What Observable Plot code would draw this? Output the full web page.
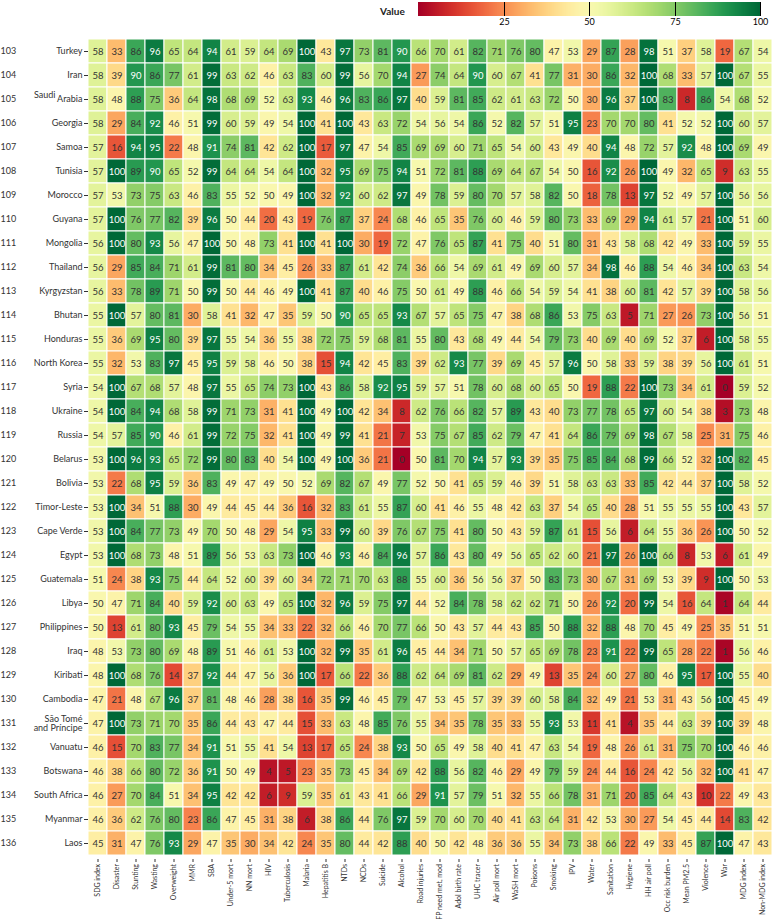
<!DOCTYPE html>
<html><head><meta charset="utf-8">
<script src="https://cdn.jsdelivr.net/npm/d3@7"></script>
<script src="https://cdn.jsdelivr.net/npm/@observablehq/plot@0.6"></script>
<style>
body{margin:0;background:#fff;font-family:Lato,"Noto Sans",sans-serif;}
#wrap{position:relative;width:772px;height:919px;overflow:hidden;}
#legend{position:absolute;top:0;left:418px;}
#ltitle{position:absolute;top:5px;left:380px;font-size:10px;font-weight:bold;color:#222;}
</style></head><body><div id="wrap"><div id="ltitle">Value</div><div id="legend"></div></div>
<script>
const indicators = ["SDG index","Disaster","Stunting","Wasting","Overweight","MMR","SBA","Under-5 mort","NN mort","HIV","Tuberculosis","Malaria","Hepatitis B","NTDs","NCDs","Suicide","Alcohol","Road injuries","FP need met, mod","Adol birth rate","UHC tracer","Air poll mort","WaSH mort","Poisons","Smoking","IPV","Water","Sanitation","Hygiene","HH air poll","Occ risk burden","Mean PM2.5","Violence","War","MDG index","Non-MDG index"];
const countries = ["Turkey","Iran","Saudi Arabia","Georgia","Samoa","Tunisia","Morocco","Guyana","Mongolia","Thailand","Kyrgyzstan","Bhutan","Honduras","North Korea","Syria","Ukraine","Russia","Belarus","Bolivia","Timor-Leste","Cape Verde","Egypt","Guatemala","Libya","Philippines","Iraq","Kiribati","Cambodia","São Tomé and Príncipe","Vanuatu","Botswana","South Africa","Myanmar","Laos"];
const rowNumbers = ["103","104","105","106","107","108","109","110","111","112","113","114","115","116","117","118","119","120","121","122","123","124","125","126","127","128","129","130","131","132","133","134","135","136"];

const turkey      = [58,33,86,96,65,64,94,61,59,64,69,100,43,97,73,81,90,66,70,61,82,71,76,80,47,53,29,87,28,98,51,37,58,19,67,54];
const iran        = [58,39,90,86,77,61,99,63,62,46,63,83,60,99,56,70,94,27,74,64,90,60,67,41,77,31,30,86,32,100,68,33,57,100,67,55];
const saudiArabia = [58,48,88,75,36,64,98,68,69,52,63,93,46,96,83,86,97,40,59,81,85,62,61,63,72,50,30,96,37,100,83,8,86,54,68,52];
const georgia     = [58,29,84,92,46,51,99,60,59,49,54,100,41,100,43,63,72,54,56,54,86,52,82,57,51,95,23,70,70,80,41,52,52,100,60,57];
const samoa       = [57,16,94,95,22,48,91,74,81,42,62,100,17,97,47,54,85,69,69,60,71,65,54,60,43,49,40,94,48,72,57,92,48,100,69,49];
const tunisia     = [57,100,89,90,65,52,99,64,64,54,64,100,32,95,69,75,94,51,72,81,88,69,64,67,54,50,16,92,26,100,49,32,65,9,63,55];
const morocco     = [57,53,73,75,63,46,83,55,52,50,49,100,32,92,60,62,97,49,78,59,80,70,57,58,82,50,18,78,13,97,52,49,57,100,56,56];
const guyana      = [57,100,76,77,82,39,96,50,44,20,43,19,76,87,37,24,68,46,65,35,76,60,46,59,80,73,33,69,29,94,61,57,21,100,51,60];
const mongolia    = [56,100,80,93,56,47,100,50,48,73,41,100,41,100,30,19,72,47,76,65,87,41,75,40,51,80,31,43,58,68,42,49,33,100,59,55];
const thailand    = [56,29,85,84,71,61,99,81,80,34,45,26,33,87,61,42,74,36,66,54,69,61,49,69,60,57,34,98,46,88,54,46,34,100,63,54];
const kyrgyzstan  = [56,33,78,89,71,50,99,50,44,46,49,100,41,87,40,46,75,50,61,49,88,46,66,54,59,54,41,38,60,81,42,57,39,100,58,56];
const bhutan      = [55,100,57,80,81,30,58,41,32,47,35,59,50,90,65,65,93,67,57,65,75,47,38,68,86,53,75,63,5,71,27,26,73,100,56,51];
const honduras    = [55,36,69,95,80,39,97,55,54,36,55,38,72,75,59,68,81,55,80,43,68,49,44,54,79,73,40,69,40,69,52,37,6,100,58,55];
const northKorea  = [55,32,53,83,97,45,95,59,58,46,50,38,15,94,42,45,83,39,62,93,77,39,69,45,57,96,50,58,33,59,38,39,56,100,61,51];
const syria       = [54,100,67,68,57,48,97,55,65,74,73,100,43,86,58,92,95,59,57,51,78,60,68,60,65,50,19,88,22,100,73,34,61,0,59,52];
const ukraine     = [54,100,84,94,68,58,99,71,73,31,41,100,49,100,42,34,8,62,76,66,82,57,89,43,40,73,77,78,65,97,60,54,38,3,73,48];
const russia      = [54,57,85,90,46,61,99,72,75,32,41,100,49,99,41,21,7,53,75,67,85,62,79,47,41,64,86,79,69,98,67,58,25,31,75,46];
const belarus     = [53,100,96,93,65,72,99,80,83,40,54,100,49,100,36,21,0,50,81,70,94,57,93,39,35,75,85,84,68,99,66,52,32,100,82,45];
const bolivia     = [53,22,68,95,59,36,83,49,47,49,50,52,69,82,67,49,77,52,50,41,65,59,46,39,51,58,63,63,33,85,42,44,37,100,58,52];
const timorLeste  = [53,100,34,51,88,30,49,44,45,44,36,16,32,83,61,55,87,60,41,46,55,48,42,63,37,54,65,40,28,51,55,55,55,100,43,57];
const capeVerde   = [53,100,84,77,73,49,70,50,48,29,54,95,33,99,60,39,76,67,75,41,80,50,43,59,87,61,15,56,6,64,55,36,26,100,50,52];
const egypt       = [53,100,68,73,48,51,89,56,53,63,73,100,46,93,46,84,96,57,86,43,80,49,56,65,62,60,21,97,26,100,66,8,53,6,61,49];
const guatemala   = [51,24,38,93,75,44,64,52,60,39,60,34,72,71,70,63,88,55,60,36,56,56,37,50,83,73,30,67,31,69,53,39,9,100,50,53];
const libya       = [50,47,71,84,40,59,92,60,63,49,65,100,32,96,59,75,97,44,52,84,78,58,62,62,71,50,26,92,20,99,54,16,64,1,64,44];
const philippines = [50,13,61,80,93,45,79,54,55,34,33,22,32,66,46,70,77,66,50,43,57,44,43,85,50,88,32,88,48,70,45,49,25,35,51,51];
const iraq        = [48,53,73,80,69,48,89,51,46,61,53,100,32,99,35,61,96,45,44,34,71,50,57,65,69,78,23,91,22,99,65,28,22,1,56,46];
const kiribati    = [48,100,68,76,14,37,92,44,47,56,36,100,17,66,22,36,88,62,64,69,81,62,29,49,13,35,24,60,27,80,46,95,17,100,55,40];
const cambodia    = [47,21,48,67,96,37,81,48,46,28,38,16,35,99,46,45,79,47,53,45,57,39,39,60,58,84,32,49,21,53,31,43,56,100,45,49];
const saoTome     = [47,100,73,71,70,35,86,44,43,47,44,15,33,63,48,85,76,55,34,35,78,35,33,55,93,53,11,41,4,35,44,63,39,100,39,48];
const vanuatu     = [46,15,70,83,77,34,91,51,55,41,54,13,17,65,24,38,93,50,65,49,58,40,41,47,63,54,19,48,26,61,31,75,70,100,46,46];
const botswana    = [46,38,66,80,72,36,91,50,49,4,5,23,35,73,45,34,69,42,88,56,82,46,29,49,79,59,24,44,16,24,42,56,32,100,41,47];
const southAfrica = [46,27,70,84,51,34,95,42,42,6,9,59,35,61,43,41,66,29,91,57,79,51,32,55,66,78,31,71,20,85,64,43,10,22,49,43];
const myanmar     = [46,36,62,76,80,23,86,47,45,31,38,6,38,86,44,76,97,59,70,60,70,40,41,63,64,31,42,53,30,27,54,45,44,14,83,42];
const laos        = [45,31,47,76,93,29,47,35,30,34,42,24,35,80,44,42,88,40,50,42,48,36,36,55,34,73,38,66,22,49,33,45,87,100,47,43];

const valueRows = [turkey,iran,saudiArabia,georgia,samoa,tunisia,morocco,guyana,mongolia,thailand,kyrgyzstan,bhutan,honduras,northKorea,syria,ukraine,russia,belarus,bolivia,timorLeste,capeVerde,egypt,guatemala,libya,philippines,iraq,kiribati,cambodia,saoTome,vanuatu,botswana,southAfrica,myanmar,laos];
const legendTicks = [25,50,75,100];

const data = [];
countries.forEach((c, i) => valueRows[i].forEach((v, j) => data.push({country: c, indicator: indicators[j], value: v})));

const labelFor = d => d === "Saudi Arabia" ? "Arabia" : d === "São Tomé and Príncipe" ? "São Tomé\nand Príncipe" : d;
const font = "Lato, 'Noto Sans', sans-serif";

const chart = Plot.plot({
  width: 772, height: 919,
  marginTop: 34, marginBottom: 60, marginLeft: 88, marginRight: 0,
  style: {fontFamily: font, fontSize: "9px", color: "#333", background: "white"},
  x: {domain: indicators, padding: 0, label: null},
  y: {domain: countries, padding: 0, label: null},
  color: {type: "linear", scheme: "RdYlGn", domain: [0, 100]},
  marks: [
    Plot.cell(data, {x: "indicator", y: "country", fill: "value", stroke: "white", strokeWidth: 1}),
    Plot.text(data.filter(d => d.value < 90), {x: "indicator", y: "country", text: d => String(d.value), fill: "#333", fontSize: 9.5}),
    Plot.text(data.filter(d => d.value >= 90), {x: "indicator", y: "country", text: d => String(d.value), fill: "white", fontSize: 9.5}),
    Plot.axisY({tickSize: 4, tickPadding: 2, fontSize: 9, tickFormat: labelFor}),
    Plot.axisX({tickRotate: -90, tickSize: 3, tickPadding: 1.5, fontSize: 7}),
    Plot.text(countries, {y: d => d, text: (d, i) => rowNumbers[i], frameAnchor: "left", dx: -88, textAnchor: "start", fontSize: 9}),
    Plot.text(["Saudi Arabia"], {y: d => d, text: () => "Saudi", frameAnchor: "left", dx: -33, dy: -4, textAnchor: "end", fontSize: 9})
  ]
});
document.getElementById("wrap").appendChild(chart);

const legend = Plot.legend({
  color: {type: "linear", scheme: "RdYlGn", domain: [0, 100]},
  width: 354, height: 30, marginTop: 2, marginBottom: 14, marginLeft: 0, marginRight: 12,
  ticks: legendTicks, tickSize: 0, label: null,
  style: {fontFamily: font, fontSize: "9px", background: "transparent"}
});
document.getElementById("legend").appendChild(legend);
</script></body></html>
